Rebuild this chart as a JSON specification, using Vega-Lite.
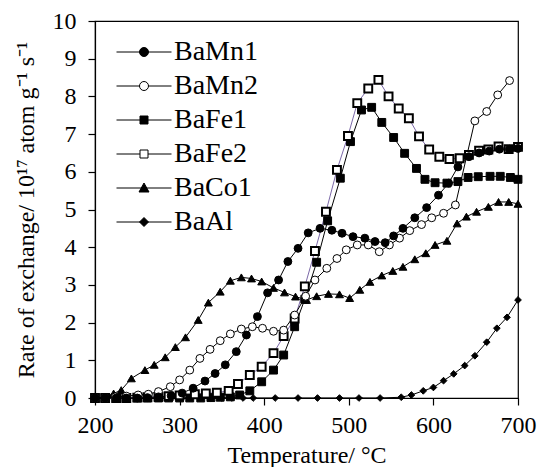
{
  "$schema": "https://vega.github.io/schema/vega-lite/v6.json",
  "width": 423,
  "height": 377,
  "autosize": {"type": "none"},
  "padding": {"left": 95, "top": 21, "right": 19, "bottom": 69},
  "background": "white",
  "config": {
    "view": {"stroke": "black", "strokeWidth": 1.2},
    "font": "Liberation Serif",
    "axis": {
      "grid": false,
      "domainColor": "black",
      "domainWidth": 1.2,
      "tickColor": "black",
      "tickWidth": 1.2,
      "tickSize": 7,
      "labelFont": "Liberation Serif",
      "labelFontSize": 24,
      "labelColor": "black",
      "labelFlush": false,
      "titleFont": "Liberation Serif",
      "titleFontSize": 24,
      "titleFontWeight": "normal",
      "titleColor": "black"
    },
    "legend": {
      "orient": "none",
      "legendX": 35,
      "legendY": 17,
      "padding": 0,
      "labelFont": "Liberation Serif",
      "labelFontSize": 28,
      "labelColor": "black",
      "labelOffset": 16,
      "symbolSize": 400,
      "rowPadding": 6,
      "symbolStrokeWidth": 1,
      "symbolOpacity": 1
    }
  },
  "data": {
    "values": [
      {"s":"BaAl","t":200,"r":0},{"s":"BaAl","t":212,"r":0},{"s":"BaAl","t":225,"r":0},{"s":"BaAl","t":237,"r":0},{"s":"BaAl","t":250,"r":0},{"s":"BaAl","t":262,"r":0},{"s":"BaAl","t":275,"r":0},{"s":"BaAl","t":287,"r":0},{"s":"BaAl","t":300,"r":0},{"s":"BaAl","t":312,"r":0},{"s":"BaAl","t":325,"r":0},{"s":"BaAl","t":337,"r":0},{"s":"BaAl","t":350,"r":0},{"s":"BaAl","t":362,"r":0},{"s":"BaAl","t":375,"r":0},{"s":"BaAl","t":387,"r":0},{"s":"BaAl","t":413,"r":0},{"s":"BaAl","t":440,"r":0},{"s":"BaAl","t":463,"r":0},{"s":"BaAl","t":489,"r":0},{"s":"BaAl","t":512,"r":0},{"s":"BaAl","t":537,"r":0},{"s":"BaAl","t":562,"r":0.02},{"s":"BaAl","t":574,"r":0.08},{"s":"BaAl","t":588,"r":0.19},{"s":"BaAl","t":600,"r":0.28},{"s":"BaAl","t":612,"r":0.46},{"s":"BaAl","t":624,"r":0.64},{"s":"BaAl","t":637,"r":0.86},{"s":"BaAl","t":649,"r":1.12},{"s":"BaAl","t":663,"r":1.48},{"s":"BaAl","t":675,"r":1.85},{"s":"BaAl","t":687,"r":2.14},{"s":"BaAl","t":700,"r":2.6},

      {"s":"BaCo1","t":200,"r":0},{"s":"BaCo1","t":212,"r":0.03},{"s":"BaCo1","t":222,"r":0.12},{"s":"BaCo1","t":231,"r":0.21},{"s":"BaCo1","t":243,"r":0.52},{"s":"BaCo1","t":259,"r":0.74},{"s":"BaCo1","t":270,"r":0.88},{"s":"BaCo1","t":283,"r":1.08},{"s":"BaCo1","t":295,"r":1.35},{"s":"BaCo1","t":307,"r":1.61},{"s":"BaCo1","t":322,"r":2.07},{"s":"BaCo1","t":334,"r":2.53},{"s":"BaCo1","t":348,"r":2.82},{"s":"BaCo1","t":360,"r":3.11},{"s":"BaCo1","t":373,"r":3.2},{"s":"BaCo1","t":385,"r":3.17},{"s":"BaCo1","t":397,"r":3.09},{"s":"BaCo1","t":411,"r":2.92},{"s":"BaCo1","t":424,"r":2.8},{"s":"BaCo1","t":437,"r":2.69},{"s":"BaCo1","t":450,"r":2.6},{"s":"BaCo1","t":462,"r":2.7},{"s":"BaCo1","t":476,"r":2.76},{"s":"BaCo1","t":489,"r":2.75},{"s":"BaCo1","t":501,"r":2.65},{"s":"BaCo1","t":513,"r":2.87},{"s":"BaCo1","t":525,"r":3.08},{"s":"BaCo1","t":539,"r":3.25},{"s":"BaCo1","t":552,"r":3.37},{"s":"BaCo1","t":564,"r":3.48},{"s":"BaCo1","t":578,"r":3.68},{"s":"BaCo1","t":591,"r":3.84},{"s":"BaCo1","t":602,"r":4.06},{"s":"BaCo1","t":616,"r":4.17},{"s":"BaCo1","t":628,"r":4.63},{"s":"BaCo1","t":639,"r":4.81},{"s":"BaCo1","t":651,"r":4.94},{"s":"BaCo1","t":665,"r":5.07},{"s":"BaCo1","t":677,"r":5.2},{"s":"BaCo1","t":689,"r":5.2},{"s":"BaCo1","t":700,"r":5.15},

      {"s":"BaFe1","t":200,"r":0},{"s":"BaFe1","t":212,"r":0},{"s":"BaFe1","t":225,"r":0},{"s":"BaFe1","t":237,"r":0},{"s":"BaFe1","t":250,"r":0},{"s":"BaFe1","t":262,"r":0},{"s":"BaFe1","t":275,"r":0},{"s":"BaFe1","t":287,"r":0},{"s":"BaFe1","t":300,"r":0},{"s":"BaFe1","t":312,"r":0},{"s":"BaFe1","t":325,"r":0},{"s":"BaFe1","t":337,"r":0.01},{"s":"BaFe1","t":348,"r":0.02},{"s":"BaFe1","t":360,"r":0.03},{"s":"BaFe1","t":371,"r":0.08},{"s":"BaFe1","t":383,"r":0.19},{"s":"BaFe1","t":397,"r":0.43},{"s":"BaFe1","t":411,"r":0.74},{"s":"BaFe1","t":423,"r":1.14},{"s":"BaFe1","t":436,"r":1.89},{"s":"BaFe1","t":448,"r":2.62},{"s":"BaFe1","t":462,"r":3.6},{"s":"BaFe1","t":475,"r":4.7},{"s":"BaFe1","t":490,"r":5.83},{"s":"BaFe1","t":502,"r":6.8},{"s":"BaFe1","t":515,"r":7.64},{"s":"BaFe1","t":527,"r":7.71},{"s":"BaFe1","t":539,"r":7.31},{"s":"BaFe1","t":553,"r":6.91},{"s":"BaFe1","t":566,"r":6.49},{"s":"BaFe1","t":580,"r":6.09},{"s":"BaFe1","t":590,"r":5.8},{"s":"BaFe1","t":602,"r":5.71},{"s":"BaFe1","t":616,"r":5.7},{"s":"BaFe1","t":629,"r":5.74},{"s":"BaFe1","t":641,"r":5.85},{"s":"BaFe1","t":653,"r":5.87},{"s":"BaFe1","t":667,"r":5.88},{"s":"BaFe1","t":679,"r":5.88},{"s":"BaFe1","t":691,"r":5.85},{"s":"BaFe1","t":700,"r":5.8},

      {"s":"BaFe2","t":200,"r":0},{"s":"BaFe2","t":212,"r":0},{"s":"BaFe2","t":225,"r":0},{"s":"BaFe2","t":237,"r":0},{"s":"BaFe2","t":250,"r":0.01},{"s":"BaFe2","t":262,"r":0.02},{"s":"BaFe2","t":275,"r":0.03},{"s":"BaFe2","t":287,"r":0.05},{"s":"BaFe2","t":300,"r":0.07},{"s":"BaFe2","t":318,"r":0.1},{"s":"BaFe2","t":331,"r":0.12},{"s":"BaFe2","t":344,"r":0.14},{"s":"BaFe2","t":358,"r":0.19},{"s":"BaFe2","t":369,"r":0.37},{"s":"BaFe2","t":383,"r":0.61},{"s":"BaFe2","t":397,"r":0.83},{"s":"BaFe2","t":411,"r":1.19},{"s":"BaFe2","t":423,"r":1.64},{"s":"BaFe2","t":436,"r":2.11},{"s":"BaFe2","t":448,"r":2.96},{"s":"BaFe2","t":460,"r":3.9},{"s":"BaFe2","t":473,"r":4.94},{"s":"BaFe2","t":486,"r":6.05},{"s":"BaFe2","t":499,"r":6.95},{"s":"BaFe2","t":510,"r":7.82},{"s":"BaFe2","t":523,"r":8.21},{"s":"BaFe2","t":535,"r":8.44},{"s":"BaFe2","t":547,"r":8.0},{"s":"BaFe2","t":559,"r":7.68},{"s":"BaFe2","t":571,"r":7.42},{"s":"BaFe2","t":583,"r":6.94},{"s":"BaFe2","t":595,"r":6.59},{"s":"BaFe2","t":607,"r":6.4},{"s":"BaFe2","t":619,"r":6.34},{"s":"BaFe2","t":631,"r":6.36},{"s":"BaFe2","t":642,"r":6.45},{"s":"BaFe2","t":654,"r":6.56},{"s":"BaFe2","t":665,"r":6.59},{"s":"BaFe2","t":677,"r":6.67},{"s":"BaFe2","t":689,"r":6.6},{"s":"BaFe2","t":700,"r":6.66},

      {"s":"BaMn2","t":200,"r":0},{"s":"BaMn2","t":212,"r":0},{"s":"BaMn2","t":224,"r":0.03},{"s":"BaMn2","t":237,"r":0.05},{"s":"BaMn2","t":251,"r":0.08},{"s":"BaMn2","t":263,"r":0.1},{"s":"BaMn2","t":275,"r":0.17},{"s":"BaMn2","t":289,"r":0.3},{"s":"BaMn2","t":300,"r":0.48},{"s":"BaMn2","t":312,"r":0.74},{"s":"BaMn2","t":324,"r":1.05},{"s":"BaMn2","t":336,"r":1.29},{"s":"BaMn2","t":348,"r":1.52},{"s":"BaMn2","t":360,"r":1.7},{"s":"BaMn2","t":373,"r":1.83},{"s":"BaMn2","t":386,"r":1.89},{"s":"BaMn2","t":398,"r":1.85},{"s":"BaMn2","t":411,"r":1.77},{"s":"BaMn2","t":423,"r":1.8},{"s":"BaMn2","t":436,"r":2.2},{"s":"BaMn2","t":449,"r":2.7},{"s":"BaMn2","t":460,"r":3.13},{"s":"BaMn2","t":474,"r":3.44},{"s":"BaMn2","t":486,"r":3.7},{"s":"BaMn2","t":497,"r":3.93},{"s":"BaMn2","t":510,"r":4.06},{"s":"BaMn2","t":523,"r":4.06},{"s":"BaMn2","t":536,"r":3.88},{"s":"BaMn2","t":548,"r":4.06},{"s":"BaMn2","t":560,"r":4.24},{"s":"BaMn2","t":572,"r":4.44},{"s":"BaMn2","t":586,"r":4.6},{"s":"BaMn2","t":598,"r":4.78},{"s":"BaMn2","t":612,"r":4.9},{"s":"BaMn2","t":626,"r":5.12},{"s":"BaMn2","t":649,"r":7.35},{"s":"BaMn2","t":663,"r":7.6},{"s":"BaMn2","t":676,"r":8.04},{"s":"BaMn2","t":690,"r":8.42},

      {"s":"BaMn1","t":200,"r":0},{"s":"BaMn1","t":212,"r":0},{"s":"BaMn1","t":225,"r":0},{"s":"BaMn1","t":237,"r":0},{"s":"BaMn1","t":250,"r":0},{"s":"BaMn1","t":262,"r":0.01},{"s":"BaMn1","t":275,"r":0.03},{"s":"BaMn1","t":290,"r":0.06},{"s":"BaMn1","t":303,"r":0.13},{"s":"BaMn1","t":316,"r":0.26},{"s":"BaMn1","t":330,"r":0.45},{"s":"BaMn1","t":342,"r":0.65},{"s":"BaMn1","t":354,"r":0.88},{"s":"BaMn1","t":367,"r":1.23},{"s":"BaMn1","t":379,"r":1.67},{"s":"BaMn1","t":392,"r":2.16},{"s":"BaMn1","t":404,"r":2.79},{"s":"BaMn1","t":417,"r":3.13},{"s":"BaMn1","t":428,"r":3.62},{"s":"BaMn1","t":440,"r":3.97},{"s":"BaMn1","t":452,"r":4.38},{"s":"BaMn1","t":466,"r":4.5},{"s":"BaMn1","t":480,"r":4.45},{"s":"BaMn1","t":492,"r":4.37},{"s":"BaMn1","t":505,"r":4.28},{"s":"BaMn1","t":519,"r":4.24},{"s":"BaMn1","t":531,"r":4.15},{"s":"BaMn1","t":543,"r":4.12},{"s":"BaMn1","t":553,"r":4.3},{"s":"BaMn1","t":564,"r":4.5},{"s":"BaMn1","t":578,"r":4.78},{"s":"BaMn1","t":592,"r":5.05},{"s":"BaMn1","t":606,"r":5.38},{"s":"BaMn1","t":618,"r":5.7},{"s":"BaMn1","t":629,"r":6.13},{"s":"BaMn1","t":642,"r":6.4},{"s":"BaMn1","t":654,"r":6.5},{"s":"BaMn1","t":666,"r":6.55},{"s":"BaMn1","t":678,"r":6.6},{"s":"BaMn1","t":690,"r":6.6},{"s":"BaMn1","t":700,"r":6.62}
    ]
  },
  "encoding": {
    "x": {
      "field": "t", "type": "quantitative",
      "scale": {"domain": [200, 700], "nice": false, "zero": false},
      "axis": {"values": [200, 300, 400, 500, 600, 700], "title": "Temperature/ °C", "labelPadding": 8, "titlePadding": 6}
    },
    "y": {
      "field": "r", "type": "quantitative",
      "scale": {"domain": [0, 10], "nice": false},
      "axis": {"values": [0,1,2,3,4,5,6,7,8,9,10], "title": "Rate of exchange/ 10¹⁷ atom g⁻¹ s⁻¹", "labelPadding": 12, "titlePadding": 14}
    }
  },
  "resolve": {"scale": {"shape": "independent", "fill": "independent", "stroke": "independent"}, "legend": {"shape": "independent", "fill": "independent", "stroke": "independent"}},
  "layer": [
    {
      "mark": {"type": "line", "strokeWidth": 1},
      "encoding": {
        "detail": {"field": "s", "type": "nominal"},
        "color": {"condition": {"test": "datum.s==='BaFe2'", "value": "#7b68a8"}, "value": "black"}
      }
    },
    {
      "mark": {"type": "point", "opacity": 1, "filled": true},
      "encoding": {
        "shape": {
          "field": "s", "type": "nominal",
          "scale": {"domain": ["BaMn1","BaMn2","BaFe1","BaFe2","BaCo1","BaAl"], "range": ["circle","circle","square","square","triangle-up","diamond"]},
          "legend": null
        },
        "fill": {"condition": {"test": "datum.s==='BaMn2' || datum.s==='BaFe2'", "value": "white"}, "value": "black"},
        "stroke": {"value": "black"},
        "strokeWidth": {"condition": {"test": "datum.s==='BaFe2'", "value": 2}, "value": 1},
        "size": {"condition": {"test": "datum.s==='BaAl'", "value": 45}, "value": 62}
      }
    },
    {
      "mark": {"type": "point", "opacity": 0, "filled": true, "strokeWidth": 1},
      "encoding": {
        "shape": {
          "field": "s", "type": "nominal",
          "scale": {"domain": ["BaMn1","BaMn2","BaFe1","BaFe2","BaCo1","BaAl"], "range": [
            "M-2.75,0H2.75M-0.45,0A0.45,0.45 0 1,0 0.45,0A0.45,0.45 0 1,0 -0.45,0Z",
            "M-2.75,0H-0.45M0.45,0H2.75M-0.45,0A0.45,0.45 0 1,0 0.45,0A0.45,0.45 0 1,0 -0.45,0Z",
            "M-2.75,0H2.75M-0.4,-0.4H0.4V0.4H-0.4Z",
            "M-2.75,0H-0.4M0.4,0H2.75M-0.4,-0.4H0.4V0.4H-0.4Z",
            "M-2.75,0H2.75M0,-0.5L0.5,0.4H-0.5Z",
            "M-2.75,0H2.75M0,-0.45L0.45,0L0,0.45L-0.45,0Z"
          ]},
          "legend": {"title": null}
        },
        "fill": {
          "field": "s", "type": "nominal",
          "scale": {"domain": ["BaMn1","BaMn2","BaFe1","BaFe2","BaCo1","BaAl"], "range": ["black","white","black","white","black","black"]},
          "legend": {"title": null}
        },
        "stroke": {
          "field": "s", "type": "nominal",
          "scale": {"domain": ["BaMn1","BaMn2","BaFe1","BaFe2","BaCo1","BaAl"], "range": ["black","black","black","black","black","black"]},
          "legend": {"title": null}
        }
      }
    }
  ]
}
